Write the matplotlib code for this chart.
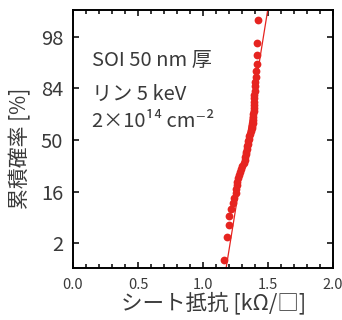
import math
import numpy as np
import matplotlib
matplotlib.use('Agg')
import matplotlib.pyplot as plt

plt.rcParams['font.family'] = ['Noto Sans CJK JP', 'DejaVu Sans']

# sheet resistance of each die, sorted [kOhm/sq]
sheet_res = [1.164, 1.182, 1.200, 1.203, 1.213, 1.228, 1.240, 1.250, 1.255, 1.258,
             1.262, 1.267, 1.275, 1.285, 1.295, 1.303, 1.312, 1.320, 1.325, 1.328,
             1.332, 1.335, 1.339, 1.343, 1.347, 1.350, 1.356, 1.362, 1.368, 1.374,
             1.378, 1.381, 1.383, 1.385, 1.387, 1.388, 1.389, 1.390, 1.392, 1.394,
             1.395, 1.397, 1.399, 1.402, 1.405, 1.408, 1.413, 1.415, 1.417, 1.420]
fit_mean = 1.336
fit_sigma = 0.064
prob_labels = ['2', '16', '50', '84', '98']
sigma_ticks = [-2, -1, 0, 1, 2]
x_ticks = [0.0, 0.5, 1.0, 1.5, 2.0]


def norm_ppf(p):
    lo, hi = -8.0, 8.0
    for _ in range(80):
        mid = 0.5 * (lo + hi)
        if 0.5 * (1 + math.erf(mid / math.sqrt(2))) < p:
            lo = mid
        else:
            hi = mid
    return 0.5 * (lo + hi)


n = len(sheet_res)
z = [norm_ppf((i + 0.5) / n) for i in range(n)]

red = '#e62420'
grey = '#3a3a3a'

fig = plt.figure(figsize=(3.42, 3.20), dpi=100)
ax = fig.add_axes([0.2135, 0.1625, 0.7605, 0.8065])

zl = np.array([-2.48, 2.52])
ax.plot(fit_mean + fit_sigma * zl, zl, color=red, lw=0.9, zorder=2)
ax.plot(sheet_res, z, 'o', color=red, ms=5.6, mec='none', zorder=3)

ax.set_xlim(0, 2.0)
ax.set_ylim(-2.48, 2.52)
ax.set_xticks(x_ticks)
ax.set_xticklabels(['%.1f' % v for v in x_ticks])
ax.set_xticks(np.arange(0, 2.0001, 0.1), minor=True)
ax.set_yticks(sigma_ticks)
ax.set_yticklabels(prob_labels)

for s in ax.spines.values():
    s.set_linewidth(1.4)
ax.tick_params(which='both', direction='in', top=True, right=True, width=1.1, colors='black')
ax.tick_params(which='major', length=4.5)
ax.tick_params(which='minor', length=3)
ax.tick_params(axis='x', labelsize=10.5, pad=7, labelcolor=grey)
ax.tick_params(axis='y', labelsize=14.5, pad=7, labelcolor=grey)

ax.set_xlabel('シート抵抗 [kΩ/□]', fontsize=15.5, color=grey)
ax.xaxis.set_label_coords(0.54, -0.09)
ax.set_ylabel('累積確率 [%]', fontsize=15, color=grey)
ax.yaxis.set_label_coords(-0.16, 0.465)

tk = dict(transform=ax.transAxes, fontsize=14.5, color=grey)
ax.text(0.072, 0.783, 'SOI 50 nm 厚', **tk)
ax.text(0.072, 0.651, 'リン 5 keV', **tk)
ax.text(0.072, 0.547, '2×10¹⁴ cm⁻²', **tk)

fig.savefig('out.png', dpi=100)
